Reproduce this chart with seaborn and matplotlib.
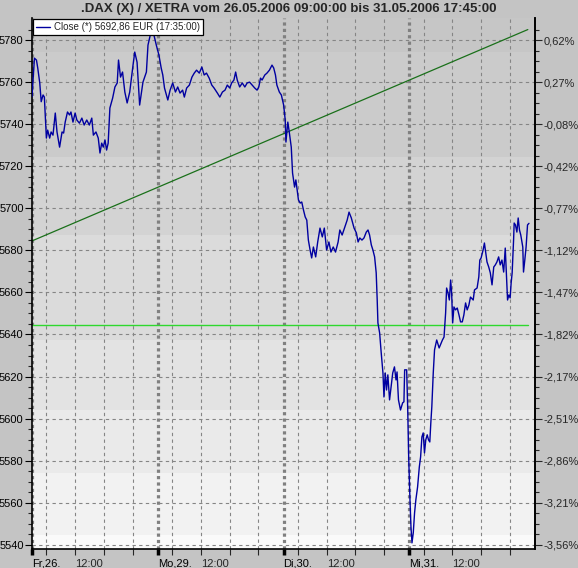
import numpy as np
import pandas as pd
import seaborn as sns
import matplotlib.pyplot as plt
from matplotlib.lines import Line2D

# x = trading hours since Fr 26.05. 09:00 (one session 09:00-17:45 = 8.75 h)
t_hours = [0.00, 0.17, 0.31, 0.40, 0.54, 0.64, 0.77, 0.86, 1.00, 1.09, 1.23, 1.33,
           1.46, 1.62, 1.74, 1.92, 2.09, 2.20, 2.31, 2.47, 2.61, 2.71, 2.85, 3.00,
           3.12, 3.30, 3.47, 3.63, 3.81, 3.99, 4.16, 4.27, 4.45, 4.61, 4.73, 4.85,
           4.96, 5.08, 5.19, 5.30, 5.42, 5.61, 5.77, 5.93, 6.02, 6.16, 6.30, 6.46,
           6.62, 6.80, 7.03, 7.15, 7.31, 7.49, 7.72, 7.96, 8.07, 8.23, 8.37, 8.53,
           8.65, 8.83, 8.99, 9.10, 9.22, 9.45, 9.61, 9.79, 9.98, 10.14, 10.30, 10.48,
           10.60, 10.76, 10.95, 11.13, 11.29, 11.45, 11.64, 11.82, 11.98, 12.14, 12.33,
           12.51, 12.67, 12.90, 13.07, 13.25, 13.43, 13.59, 13.76, 13.89, 14.05, 14.17,
           14.28, 14.45, 14.63, 14.81, 14.97, 15.14, 15.32, 15.50, 15.66, 15.78, 15.90,
           16.01, 16.20, 16.35, 16.52, 16.70, 16.82, 16.94, 17.04, 17.21, 17.35,
           17.51, 17.62, 17.67, 17.80, 17.90, 18.04, 18.13, 18.27, 18.36, 18.45, 18.54,
           18.66, 18.77, 18.89, 19.01, 19.12, 19.23, 19.35, 19.46, 19.58, 19.74, 19.88,
           20.04, 20.20, 20.34, 20.50, 20.66, 20.80, 20.96, 21.12, 21.30, 21.42, 21.58,
           21.77, 21.93, 22.06, 22.22, 22.41, 22.57, 22.69, 22.81, 22.96, 23.10, 23.26,
           23.38, 23.49, 23.61, 23.72, 23.84, 23.95, 24.02, 24.07, 24.19, 24.30, 24.42,
           24.49, 24.58, 24.67, 24.76, 24.88, 24.99, 25.10, 25.22, 25.33, 25.40, 25.50,
           25.64, 25.79, 25.88, 25.93, 26.07, 26.14, 26.21, 26.30, 26.37, 26.44, 26.53,
           26.62, 26.71, 26.83, 26.95, 27.04, 27.13, 27.22, 27.31, 27.40, 27.50, 27.59,
           27.68, 27.75, 27.82, 27.92, 28.01, 28.16, 28.33, 28.56, 28.67, 28.78, 28.85,
           28.95, 29.04, 29.13, 29.20, 29.27, 29.36, 29.47, 29.59, 29.71, 29.82, 29.94,
           30.05, 30.17, 30.28, 30.40, 30.51, 30.70, 30.79, 30.97, 31.09, 31.16, 31.25,
           31.39, 31.48, 31.57, 31.66, 31.78, 31.89, 32.01, 32.13, 32.24, 32.35, 32.47,
           32.58, 32.70, 32.82, 32.93, 33.00, 33.09, 33.18, 33.27, 33.34, 33.41, 33.51,
           33.55, 33.64, 33.74, 33.83, 33.92, 34.01, 34.15, 34.20, 34.29, 34.38, 34.48,
           34.58]
close = [5753.1, 5771.4, 5770.5, 5766.7, 5759.6, 5750.7, 5753.9, 5752.9, 5733.4, 5737.2, 5733.4, 5736.3,
         5734.8, 5745.3, 5736.3, 5729.1, 5736.3, 5735.8, 5741.0, 5745.8, 5744.4, 5745.8, 5741.0, 5745.3,
         5742.0, 5740.5, 5742.9, 5739.6, 5742.0, 5739.6, 5742.9, 5734.8, 5736.3, 5733.4, 5726.3, 5731.0,
         5729.1, 5732.5, 5727.7, 5731.0, 5747.7, 5752.4, 5757.7, 5759.6, 5770.5, 5762.4, 5764.8, 5755.3,
         5750.1, 5755.3, 5768.1, 5774.3, 5769.5, 5749.1, 5760.0, 5764.8, 5777.6, 5782.4, 5785.7, 5781.0,
         5777.6, 5772.9, 5766.7, 5763.4, 5757.2, 5751.5, 5756.2, 5759.6, 5755.3, 5757.7, 5754.8, 5756.2,
         5752.9, 5757.2, 5758.6, 5762.4, 5764.3, 5765.7, 5764.3, 5767.2, 5763.4, 5764.3, 5761.9,
         5758.6, 5757.2, 5754.8, 5752.9, 5755.3, 5756.2, 5758.6, 5757.2, 5759.6, 5761.0, 5764.8,
         5761.0, 5757.7, 5759.6, 5757.7, 5759.6, 5760.0, 5758.6, 5757.2, 5756.2, 5757.7, 5761.9,
         5761.0, 5763.4, 5764.3, 5765.7, 5768.1, 5766.7, 5763.4, 5758.6, 5755.3, 5753.9,
         5749.1, 5742.0, 5731.5, 5741.0, 5736.3, 5729.1, 5716.8, 5710.1, 5713.5, 5708.7, 5704.0,
         5702.5, 5703.0, 5699.2, 5695.9, 5694.4, 5684.9, 5680.2, 5676.4, 5681.6, 5676.9, 5684.0,
         5690.6, 5686.4, 5690.6, 5680.2, 5684.0, 5679.2, 5681.6, 5679.2, 5684.0, 5689.7, 5687.3,
         5691.1, 5694.4, 5698.2, 5695.4, 5690.6, 5688.3, 5684.0, 5685.9, 5684.9, 5685.9, 5688.7,
         5689.7, 5687.3, 5682.6, 5680.2, 5676.9, 5669.3, 5656.4, 5645.5, 5640.7, 5631.2, 5621.7,
         5610.3, 5621.7, 5613.6, 5620.8, 5608.9, 5615.1, 5621.7, 5624.6, 5618.4, 5622.2, 5608.9,
         5604.1, 5607.5, 5608.0, 5623.2, 5623.2, 5605.6, 5581.8, 5561.4, 5548.5, 5540.9, 5545.7,
         5555.2, 5561.4, 5567.5, 5577.0, 5581.8, 5591.3, 5593.2, 5583.7, 5589.9, 5592.3, 5589.9,
         5588.9, 5597.9, 5605.6, 5621.7, 5632.7, 5637.4, 5633.6, 5637.4, 5638.8, 5650.2, 5662.1,
         5659.7, 5656.4, 5665.9, 5659.7, 5645.5, 5653.1, 5651.7, 5652.6, 5649.3, 5646.0, 5646.0,
         5649.3, 5655.0, 5651.7, 5654.0, 5657.8, 5656.4, 5661.2, 5662.1, 5667.4, 5675.4, 5676.4,
         5680.2, 5683.5, 5678.8, 5674.5, 5672.1, 5669.3, 5663.6, 5672.1, 5673.1, 5674.5, 5676.9,
         5673.1, 5675.4, 5669.7, 5681.1, 5670.7, 5656.4, 5658.8, 5657.4, 5664.5, 5669.3, 5685.0,
         5693.0, 5692.1, 5688.7, 5695.4, 5689.7, 5687.3, 5681.6, 5669.7, 5675.4, 5681.6, 5692.1,
         5692.86]

trend_t = [0.0, 34.5]
trend_v = [5684.5, 5785.0]
support_t = [0.0, 34.5]
support_v = [5644.5, 5644.5]

day_starts = [0.0, 8.75, 17.5, 26.25]
day_labels = ['Fr,26.', 'Mo,29.', 'Di,30.', 'Mi,31.']
hour_offsets = [1, 3, 5, 7]          # 10:00, 12:00, 14:00, 16:00
hour_labels = ['', '12:00', '', '']

price_ticks = list(range(5540, 5781, 20))
pct_labels = ['-3,56%', '-3,21%', '-2,86%', '-2,51%', '-2,17%', '-1,82%', '-1,47%',
              '-1,12%', '-0,77%', '-0,42%', '-0,08%', '0,27%', '0,62%']

band_edges = [5790.5, 5774.3, 5724.4, 5687.3, 5637.4, 5604.1, 5574.2, 5544.7, 5538.0]
band_colors = ['#c6c6c6', '#cbcbcb', '#d3d3d3', '#dbdbdb', '#e3e3e3', '#eaeaea', '#f2f2f2', '#fafafa']

sns.set_style('ticks')
plt.rcParams['font.family'] = ['Liberation Sans', 'DejaVu Sans']

bg = '#c4c4c4'
f = plt.figure(figsize=(5.78, 5.68), dpi=100, facecolor=bg)
ax = f.add_axes([32 / 578, 1 - 549 / 568, (535 - 32) / 578, (549 - 18) / 568])
ax.set_facecolor(bg)
ax.set_axisbelow('line')

# background bands
for i, c in enumerate(band_colors):
	ax.axhspan(band_edges[i + 1], band_edges[i], color=c, lw=0, zorder=0)

# vertical grid
for d in day_starts:
	ax.axvline(d, color='#808080', lw=2.3, ls=(0, (1, 1)), zorder=1.2)

df = pd.DataFrame({'t': t_hours, 'close': close})
sns.lineplot(data=df, x='t', y='close', ax=ax, color='#0000a0', lw=1.0,
             estimator=None, sort=False, zorder=3)
ax.plot(trend_t, trend_v, color='#1a701a', lw=0.9, zorder=2.5)
ax.plot(support_t, support_v, color='#2ed82e', lw=1.0, zorder=2.5)

ax.set_xlim(0, 35)
ax.set_ylim(band_edges[-1], band_edges[0])

ax.set_yticks(price_ticks)
ax.set_yticks(np.arange(5540, 5790, 5), minor=True)
ax.set_xticks(day_starts, labels=day_labels)
minor_pos = [d + h for d in day_starts for h in hour_offsets]
ax.set_xticks(minor_pos, labels=hour_labels * len(day_starts), minor=True)
for lbl in ax.get_xticklabels(which='both'):
	lbl.set_horizontalalignment('left')

ax.grid(axis='y', which='major', color='#858585', ls=(0, (3, 3)), lw=0.8)
ax.grid(axis='x', which='minor', color='#858585', ls=(0, (3, 3)), lw=0.8)

ax.tick_params(axis='y', which='major', length=5, width=0.8, labelsize=8, pad=1, colors='black')
ax.tick_params(axis='y', which='minor', length=3, width=0.8)
ax.tick_params(axis='x', which='major', length=4, width=2.5, labelsize=8, pad=3, colors='black')
ax.tick_params(axis='x', which='minor', length=4, width=0.8, labelsize=8, pad=3)
ax.set(xlabel=None, ylabel=None)

for side in ['left', 'bottom', 'right']:
	ax.spines[side].set_visible(True)
	ax.spines[side].set_color('black')
	ax.spines[side].set_linewidth(1.2)
ax.spines['top'].set_visible(False)

ax2 = ax.twinx()
ax2.set_ylim(ax.get_ylim())
ax2.set_yticks(price_ticks, labels=pct_labels)
ax2.set_yticks(np.arange(5540, 5790, 5), minor=True)
ax2.tick_params(axis='y', which='major', length=5, width=0.8, labelsize=8, pad=1)
ax2.tick_params(axis='y', which='minor', length=3, width=0.8)
for side in ['left', 'bottom', 'top']:
	ax2.spines[side].set_visible(False)
ax2.spines['right'].set_color('black')
ax2.spines['right'].set_linewidth(1.2)

handle = Line2D([], [], color='#0000a0', lw=1.0)
leg = ax.legend([handle], ['Close (*) 5692,86 EUR (17:35:00)'], loc='upper left',
                bbox_to_anchor=(0.0, 1.0), borderaxespad=0.15, fancybox=False,
                edgecolor='black', framealpha=1, fontsize=7, handlelength=1.4,
                borderpad=0.3, handletextpad=0.4)
leg.get_frame().set_linewidth(0.9)
leg.set_zorder(10)

f.text(0.5, 1 - 9 / 568, '.DAX (X) / XETRA vom 26.05.2006 09:00:00 bis 31.05.2006 17:45:00',
       ha='center', va='center', fontsize=9.5, fontweight='bold')

f.savefig('out.png', dpi=100, facecolor=bg)
